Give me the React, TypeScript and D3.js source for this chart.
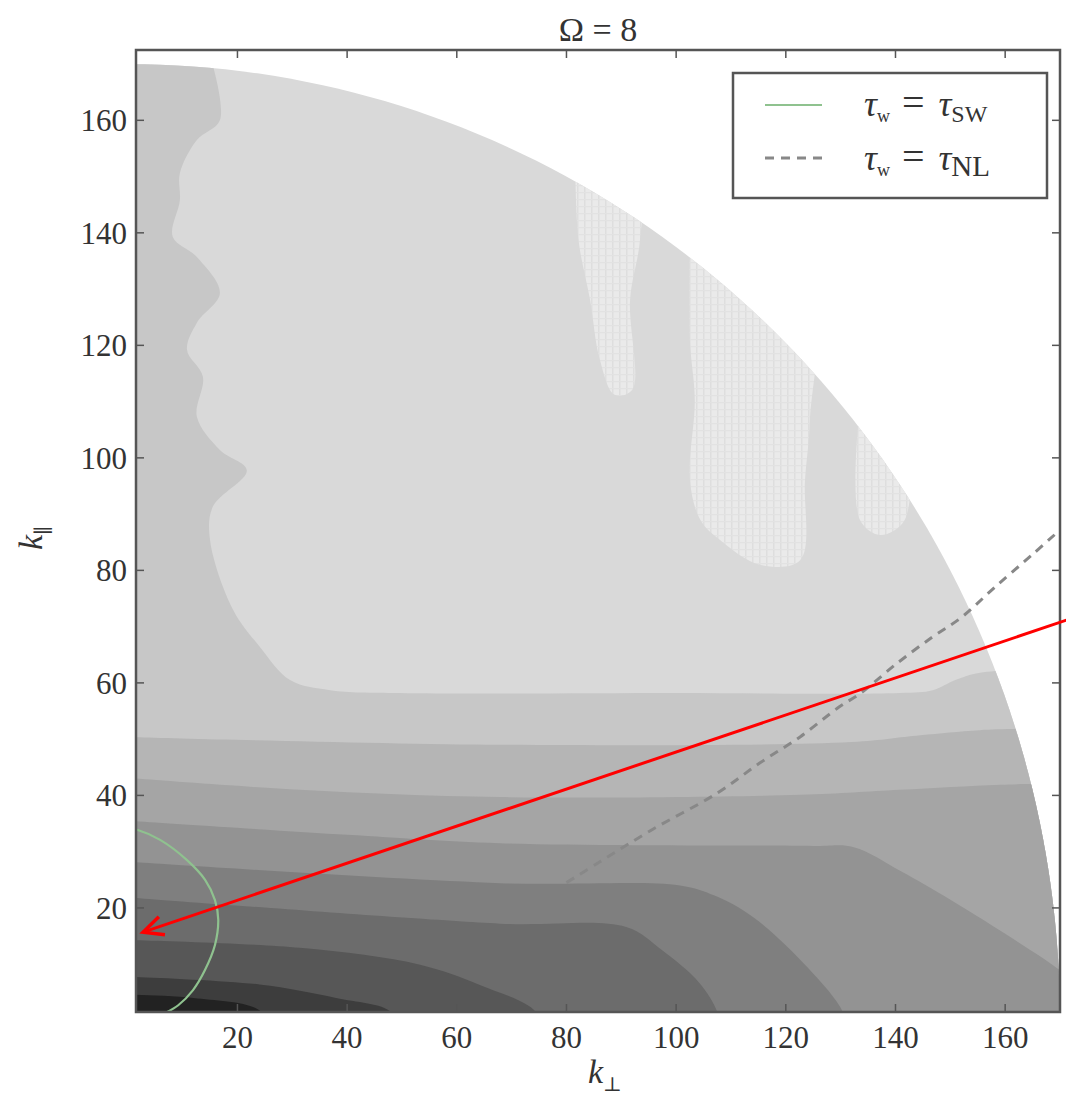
import React from "react";
import * as d3 from "d3";

// ---------- data ----------
const W = 1066;
const H = 1097;
const xTicks = [20, 40, 60, 80, 100, 120, 140, 160];
const yTicks = [20, 40, 60, 80, 100, 120, 140, 160];
const kMax = 170; // radius of the computed domain (k <= 170)

// level colours, light -> dark
const levelColors = ["#d9d9d9", "#c7c7c7", "#b5b5b5", "#a5a5a5", "#939393", "#7f7f7f", "#6c6c6c", "#575757", "#3d3d3d", "#222222"];
const streakColor = "#eaeaea";

// boundary of the light top region (left strip + band below)
const lightEdge: [number, number][] = [
  [15.5, 169.8], [16.8, 160.0], [12.6, 156.5], [9.5, 150.6], [9.5, 145.8], [8.2, 139.3],
  [12.6, 135.7], [16.8, 129.3], [12.6, 124.0], [10.8, 119.2], [13.7, 114.4], [12.6, 107.3],
  [16.8, 101.4], [21.7, 97.8], [15.5, 91.3], [15.0, 85.4], [19.2, 73.0], [24.1, 66.4],
  [29.6, 60.5], [36.9, 58.7], [49.6, 58.2], [100, 58.2], [140.8, 58.2], [146.8, 58.7],
  [150.9, 60.5], [155.4, 61.8], [172, 62.6],
];

// lower contour bands: each band fills the area below its edge
const band2Edge: [number, number][] = [[0, 50.4], [67.9, 49.0], [132, 49.5], [144.5, 50.7], [155.4, 51.6], [172, 52.0]];
const band3Edge: [number, number][] = [[0, 43.1], [31.4, 41.0], [67.9, 39.7], [122.6, 40.1], [140.8, 41.0], [159.1, 41.9], [172, 42.2]];
const band4Edge: [number, number][] = [[0, 35.5], [40, 33.0], [67.9, 31.5], [125, 31.0], [132.4, 30.8], [141, 26.5], [150.1, 21.4], [166.5, 11.3], [172, 7.5]];
const band5Edge: [number, number][] = [[0, 28.2], [67.9, 24.4], [100.7, 24.0], [107, 22.2], [114.0, 18.4], [123.9, 9.5], [130.4, 1.5], [131, -2]];
const band6Edge: [number, number][] = [[0, 21.9], [67.9, 17.2], [90.9, 16.6], [97.4, 12.5], [104.2, 6.7], [107.5, 1.5], [108, -2]];
const band7Edge: [number, number][] = [[0, 14.3], [31.4, 12.9], [53.3, 9.9], [64.2, 6.3], [74.4, 1.5], [75, -2]];
const band8Edge: [number, number][] = [[0, 7.8], [24, 6.4], [38, 4.0], [48, 1.5], [49, -2]];
const band9Edge: [number, number][] = [[0, 4.6], [12, 4.0], [24, 1.8], [26, -2]];

// lighter streaks in the upper region
const streakA: [number, number][] = [[81.6, 152], [93.4, 152], [93.4, 138.7], [91.6, 128.1], [92.0, 112.1], [88.8, 111.2], [86.1, 117.4], [84.3, 128.1], [82.2, 138.7]];
const streakB: [number, number][] = [[102.5, 140], [124.4, 140], [124.4, 106.7], [123.5, 96.1], [122.6, 81.8], [115.3, 81.0], [108.0, 85.4], [104.4, 89.0], [102.5, 96.1], [103.4, 110.3], [102.5, 121.0]];
const streakC: [number, number][] = [[133.2, 106], [140.8, 106], [141.7, 89.0], [137.2, 86.3], [133.5, 89.0]];

// tau_w = tau_SW contour (green)
const swContour: [number, number][] = [[0, 34.2], [1.7, 33.9], [5.9, 32.1], [10.8, 28.5], [14.1, 25.0], [15.9, 21.4], [16.5, 17.9], [15.9, 13.4], [14.1, 9.0], [11.9, 5.4], [9.2, 2.7], [7.2, 1.5]];
// tau_w = tau_NL contour (dashed)
const nlContour: [number, number][] = [[80, 24.5], [86.1, 28.2], [95.6, 33.9], [107.5, 40.4], [115.3, 45.8], [122.6, 50.4], [129.7, 55.7], [133.7, 58.2], [140.3, 63.5], [146.8, 68.2], [152.1, 71.7], [158.1, 77.0], [165.3, 83.1], [170, 87.2]];

// red annotation arrow (from, to) in data units
const arrowFrom: [number, number] = [171.3, 71.2];
const arrowTo: [number, number] = [2.8, 15.7];

// ---------- layout ----------
const plot = { left: 136, right: 1060, top: 50, bottom: 1012 };
const x = d3.scaleLinear().domain([1.5, 170]).range([plot.left, plot.right]);
const y = d3.scaleLinear().domain([1.5, 172.5]).range([plot.bottom, plot.top]);

const lineGen = d3.line<[number, number]>().x((d) => x(d[0])).y((d) => y(d[1]));
const smoothGen = d3.line<[number, number]>().x((d) => x(d[0])).y((d) => y(d[1])).curve(d3.curveCatmullRom.alpha(0.5));

function belowPath(edge: [number, number][]) {
  const first = edge[0];
  const last = edge[edge.length - 1];
  const closing: [number, number][] = [[last[0], -5], [-5, -5], [-5, first[1]]];
  return smoothGen(edge) + closing.map((p) => `L${x(p[0])},${y(p[1])}`).join("") + "Z";
}

function lightPath() {
  const edge = lightEdge;
  const closing: [number, number][] = [[180, edge[edge.length - 1][1]], [180, -5], [-5, -5], [-5, 180], [edge[0][0], 180]];
  return smoothGen(edge) + closing.map((p) => `L${x(p[0])},${y(p[1])}`).join("") + "Z";
}

const diskPts: [number, number][] = [[0, 0], ...d3.range(0, 91).map((a) => {
  const t = (a * Math.PI) / 180;
  return [kMax * Math.cos(t), kMax * Math.sin(t)] as [number, number];
})];

const serif = "'Liberation Serif', 'DejaVu Serif', serif";

export default function App() {
  const bands = [band2Edge, band3Edge, band4Edge, band5Edge, band6Edge, band7Edge, band8Edge, band9Edge];
  const ax = arrowTo;
  const af = arrowFrom;
  const ang = Math.atan2(y(af[1]) - y(ax[1]), x(af[0]) - x(ax[0]));
  const tipX = x(ax[0]);
  const tipY = y(ax[1]);
  const headLen = 22;
  const wing1 = [tipX + headLen * Math.cos(ang + 0.45), tipY + headLen * Math.sin(ang + 0.45)];
  const wing2 = [tipX + headLen * Math.cos(ang - 0.45), tipY + headLen * Math.sin(ang - 0.45)];

  return (
    <svg width={W} height={H} style={{ position: "absolute", left: 0, top: 0, background: "#fff" }}>
      <defs>
        <clipPath id="plotclip">
          <rect x={plot.left} y={plot.top} width={plot.right - plot.left} height={plot.bottom - plot.top} />
        </clipPath>
        <clipPath id="diskclip">
          <path d={lineGen(diskPts) + "Z"} />
        </clipPath>
        <pattern id="dots" width={7} height={7} patternUnits="userSpaceOnUse">
          <rect x={0} y={0} width={7} height={7} fill={streakColor} />
          <rect x={3} y={0} width={1.5} height={7} fill="#dedede" />
          <rect x={0} y={3} width={7} height={1.2} fill="#e2e2e2" />
        </pattern>
      </defs>
      <rect x={0} y={0} width={W} height={H} fill="#fff" />
      <g clipPath="url(#plotclip)">
        <g clipPath="url(#diskclip)">
          <rect x={plot.left - 10} y={plot.top - 10} width={plot.right - plot.left + 20} height={plot.bottom - plot.top + 20} fill={levelColors[0]} />
          {[streakA, streakB, streakC].map((s, i) => (
            <path key={"s" + i} d={smoothGen([...s, s[0]]) + "Z"} fill="url(#dots)" />
          ))}
          <path d={lightPath()} fill={levelColors[1]} />
          {bands.map((b, i) => (
            <path key={"b" + i} d={belowPath(b)} fill={levelColors[i + 2]} />
          ))}
        </g>
        <path d={smoothGen(swContour) || ""} fill="none" stroke="#8fc28f" strokeWidth={2.2} />
        <path d={smoothGen(nlContour) || ""} fill="none" stroke="#888" strokeWidth={3} strokeDasharray="9 7" />
      </g>
      {/* frame */}
      <rect x={plot.left} y={plot.top} width={plot.right - plot.left} height={plot.bottom - plot.top} fill="none" stroke="#555" strokeWidth={2.5} />
      {/* ticks */}
      {xTicks.map((t) => (
        <g key={"xt" + t}>
          <line x1={x(t)} x2={x(t)} y1={plot.bottom} y2={plot.bottom - 8} stroke="#555" strokeWidth={1.5} />
          <line x1={x(t)} x2={x(t)} y1={plot.top} y2={plot.top + 8} stroke="#555" strokeWidth={1.5} />
          <text x={x(t)} y={plot.bottom + 36} textAnchor="middle" fontFamily={serif} fontSize={31} fill="#333">{t}</text>
        </g>
      ))}
      {yTicks.map((t) => (
        <g key={"yt" + t}>
          <line x1={plot.left} x2={plot.left + 8} y1={y(t)} y2={y(t)} stroke="#555" strokeWidth={1.5} />
          <line x1={plot.right} x2={plot.right - 8} y1={y(t)} y2={y(t)} stroke="#555" strokeWidth={1.5} />
          <text x={plot.left - 9} y={y(t) + 11} textAnchor="end" fontFamily={serif} fontSize={31} fill="#333">{t}</text>
        </g>
      ))}
      {/* title */}
      <text x={(plot.left + plot.right) / 2} y={41} textAnchor="middle" fontFamily={serif} fontSize={34} fill="#333">Ω = 8</text>
      {/* axis labels */}
      <text x={588} y={1083} fontFamily={serif} fontSize={34} fontStyle="italic" fill="#333">k<tspan fontSize={20} fontStyle="normal" dy={8}>⊥</tspan></text>
      <text transform="translate(42,550) rotate(-90)" fontFamily={serif} fontSize={34} fontStyle="italic" fill="#333">k<tspan fontSize={20} fontStyle="normal" dy={8}>∥</tspan></text>
      {/* legend */}
      <rect x={733} y={73} width={314} height={125} fill="#fff" stroke="#555" strokeWidth={2.5} />
      <line x1={765} x2={822} y1={105} y2={105} stroke="#8fc28f" strokeWidth={2.2} />
      <line x1={765} x2={822} y1={158} y2={158} stroke="#888" strokeWidth={3} strokeDasharray="9 7" />
      <text x={864} y={116} fontFamily={serif} fontSize={36} fill="#333"><tspan fontStyle="italic">τ</tspan><tspan fontSize={18} dy={6}>w</tspan><tspan dy={-6} dx={12} fontSize={40}>=</tspan><tspan fontStyle="italic" dx={14}>τ</tspan><tspan fontSize={24} dy={6}>SW</tspan></text>
      <text x={864} y={170} fontFamily={serif} fontSize={36} fill="#333"><tspan fontStyle="italic">τ</tspan><tspan fontSize={18} dy={6}>w</tspan><tspan dy={-6} dx={12} fontSize={40}>=</tspan><tspan fontStyle="italic" dx={14}>τ</tspan><tspan fontSize={29} dy={6}>NL</tspan></text>
      {/* red arrow annotation */}
      <line x1={x(af[0])} y1={y(af[1])} x2={tipX} y2={tipY} stroke="#f00" strokeWidth={3} />
      <polyline points={`${wing1[0]},${wing1[1]} ${tipX},${tipY} ${wing2[0]},${wing2[1]}`} fill="none" stroke="#f00" strokeWidth={3.5} />
    </svg>
  );
}
